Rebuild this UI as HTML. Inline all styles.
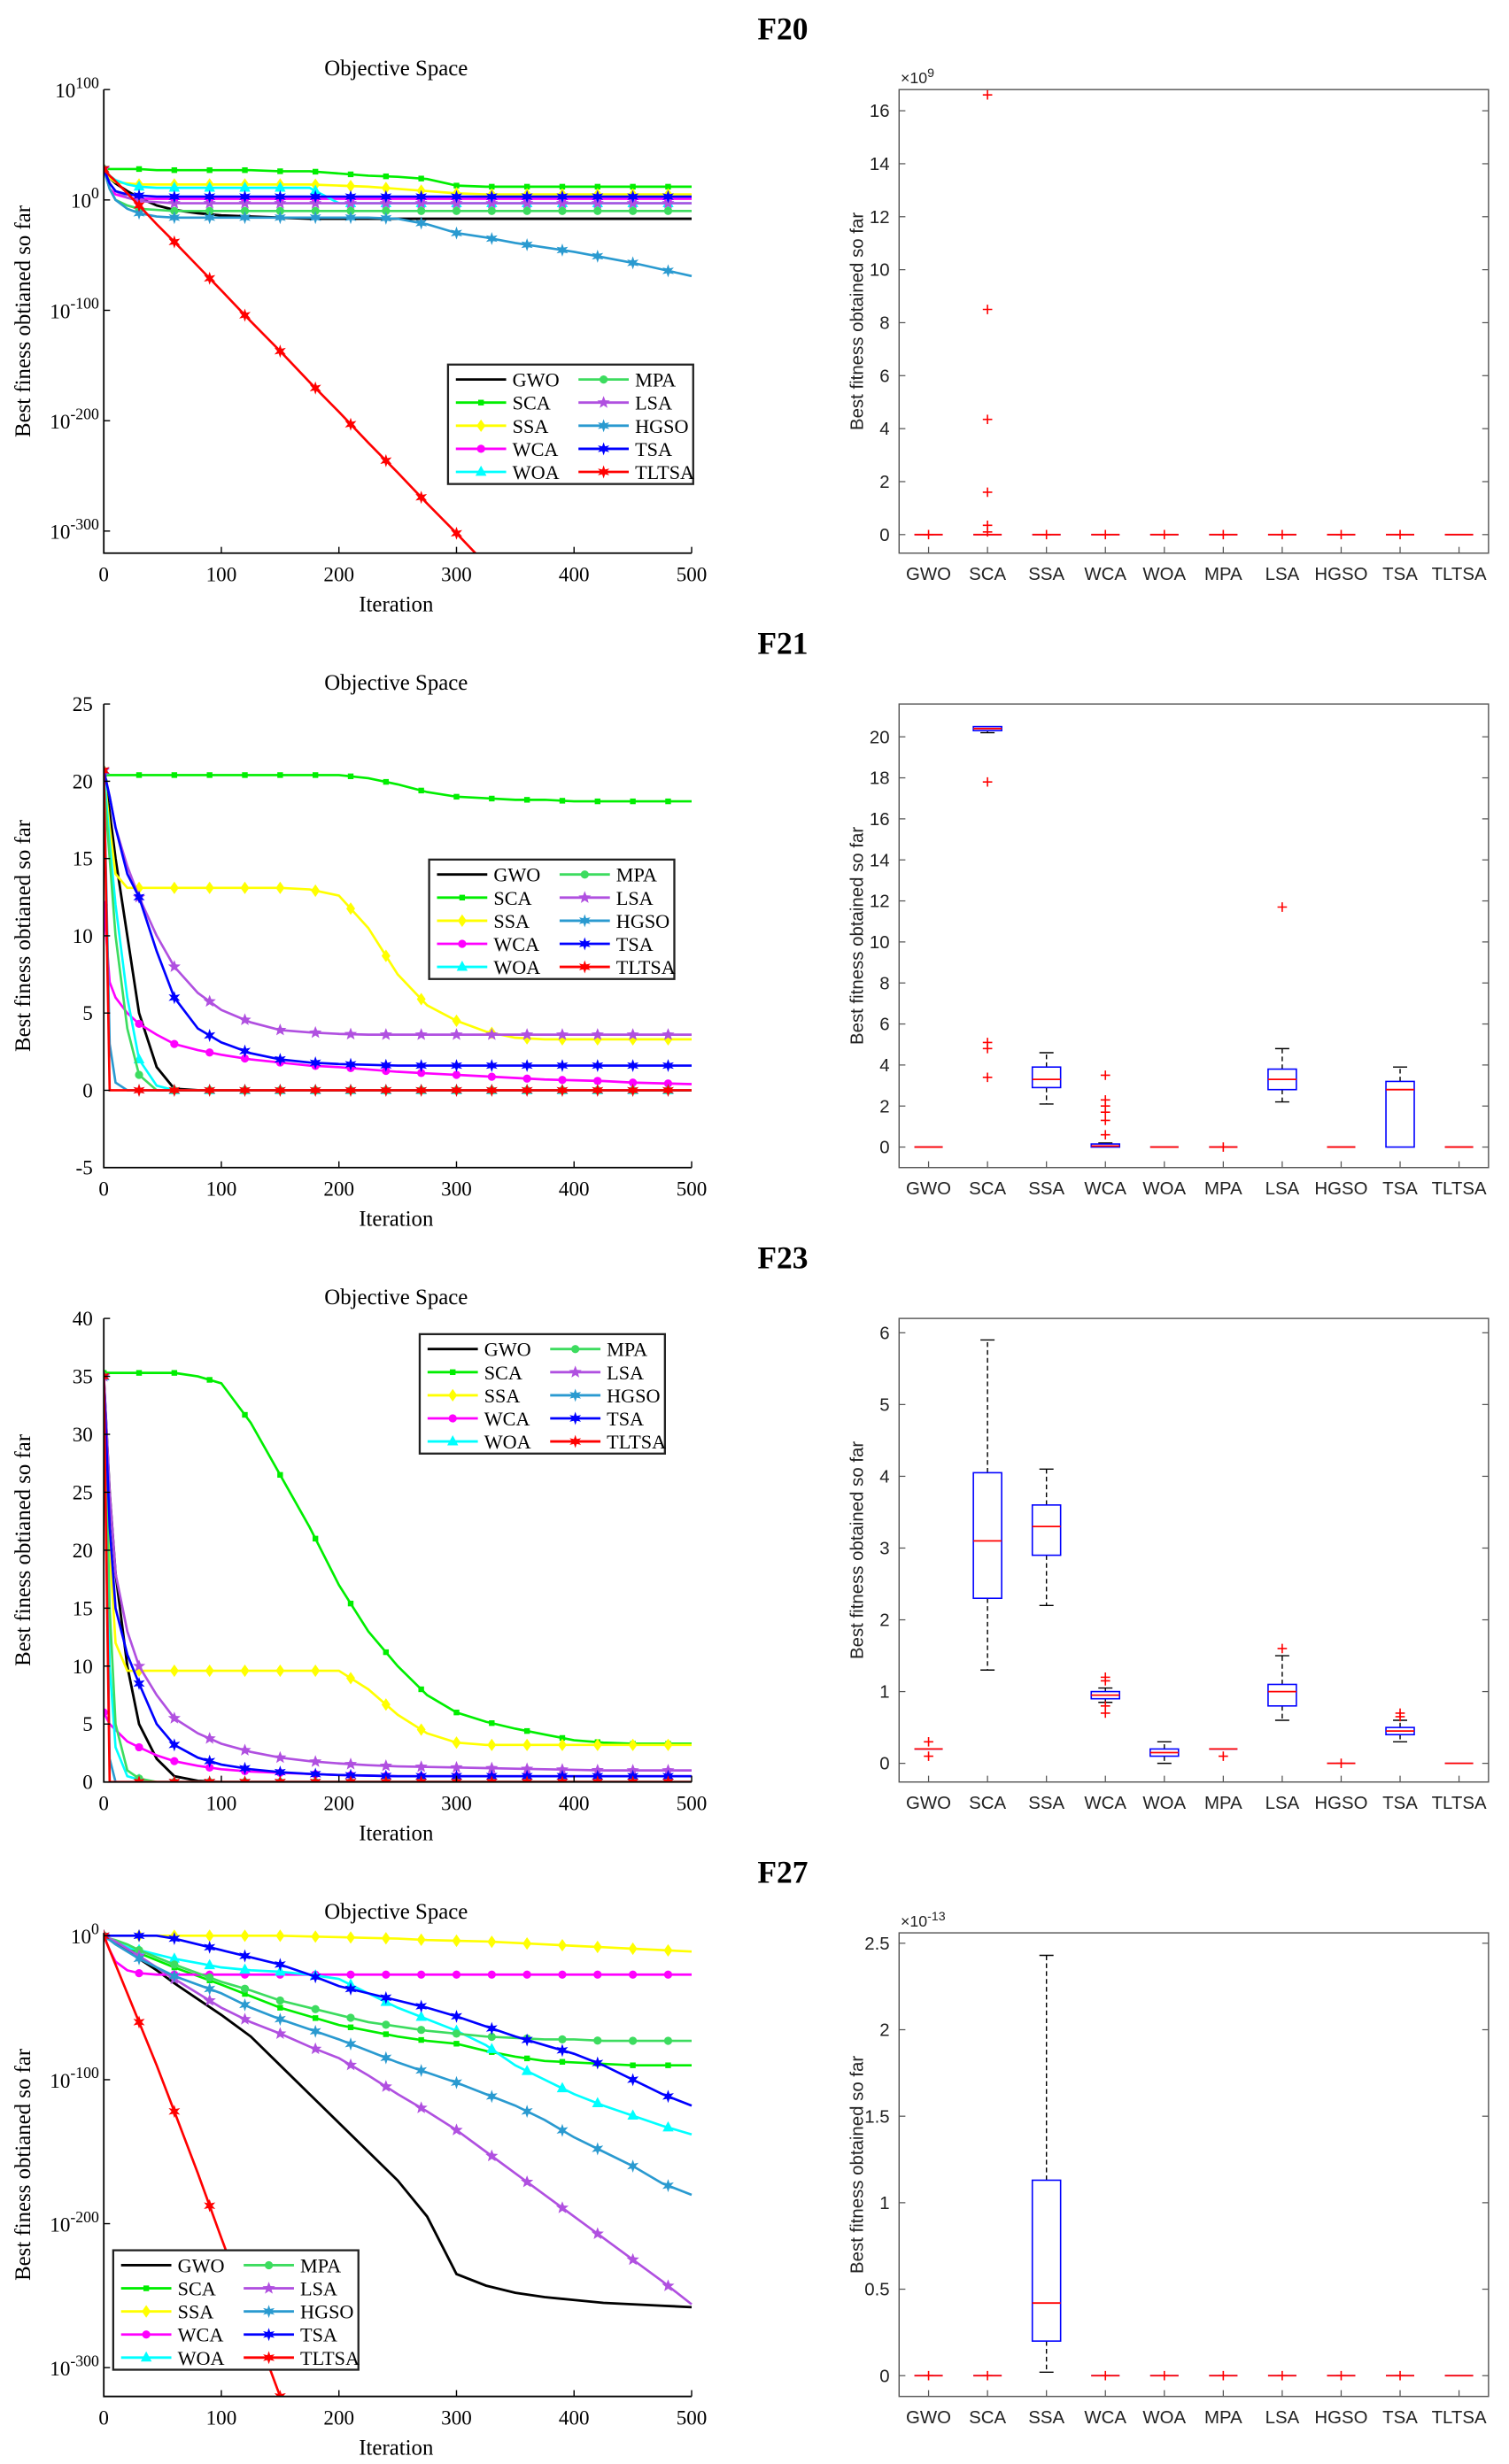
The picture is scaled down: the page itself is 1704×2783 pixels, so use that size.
<!DOCTYPE html>
<html><head><meta charset="utf-8"><style>
html,body{margin:0;padding:0;background:#fff}
svg{display:block}
</style></head><body>
<svg id="fig" xmlns="http://www.w3.org/2000/svg" width="1704" height="2783" viewBox="0 0 960 1568"></svg>
<script>
// ---------- DATA ----------
const ALGOS = ["GWO","SCA","SSA","WCA","WOA","MPA","LSA","HGSO","TSA","TLTSA"];
const ITER = [0,5,10,20,30,45,60,80,100,125,150,175,200,225,250,275,300,325,350,375,400,425,450,475,500];
const X_TICKS = [0,100,200,300,400,500];

// F20 (log10 of fitness)
const F20_GWO  = [28,20,15,8,2,-5,-9,-12,-14,-15,-16,-17,-17,-17,-17,-17,-17,-17,-17,-17,-17,-17,-17,-17,-17];
const F20_SCA  = [28,28,28,28,28,27,27,27,27,27,26,26,24,22,21,19,13,12,12,12,12,12,12,12,12];
const F20_SSA  = [28,20,16,15,14,14,14,14,14,14,14,14,13,12,10,8,6,5,5,5,5,5,5,5,5];
const F20_WCA  = [28,10,5,2,1,1,1,1,1,1,1,1,1,1,1,1,1,1,1,1,1,1,1,1,1];
const F20_WOA  = [28,22,18,14,12,11,11,11,11,11,11,11,-3,-3,-3,-3,-3,-3,-3,-3,-3,-3,-3,-3,-3];
const F20_MPA  = [28,10,0,-5,-8,-9,-10,-10,-10,-10,-10,-10,-10,-10,-10,-10,-10,-10,-10,-10,-10,-10,-10,-10,-10];
const F20_LSA  = [28,15,8,2,-1,-2,-3,-3,-3,-3,-3,-3,-3,-3,-3,-3,-3,-3,-3,-3,-3,-3,-3,-3,-3];
const F20_HGSO = [28,10,0,-8,-12,-15,-16,-16,-16,-16,-16,-16,-16,-16,-17,-22,-30,-34,-39,-43,-47,-52,-57,-63,-69];
const F20_TSA  = [28,15,8,5,4,3,3,3,3,3,3,3,3,3,3,3,3,3,3,3,3,3,3,3,3];
const F20_TLTSA= [28,22,17,6,-5,-22,-38,-60,-82,-110,-137,-165,-192,-220,-247,-275,-302,-330,-340,-340,-340,-340,-340,-340,-340];

// F21
const F21_GWO  = [20.7,18,15,10,5,1.5,0.1,0,0,0,0,0,0,0,0,0,0,0,0,0,0,0,0,0,0];
const F21_SCA  = [20.4,20.4,20.4,20.4,20.4,20.4,20.4,20.4,20.4,20.4,20.4,20.4,20.4,20.2,19.8,19.3,19,18.9,18.8,18.8,18.7,18.7,18.7,18.7,18.7];
const F21_SSA  = [20.7,17,14,13.1,13.1,13.1,13.1,13.1,13.1,13.1,13.1,13,12.6,10.5,7.5,5.5,4.5,3.8,3.4,3.3,3.3,3.3,3.3,3.3,3.3];
const F21_WCA  = [12,7,6,5,4.3,3.6,3,2.6,2.3,2,1.8,1.6,1.5,1.35,1.2,1.1,1,0.9,0.8,0.7,0.65,0.6,0.5,0.45,0.4];
const F21_WOA  = [20.7,16,12,6,2,0.3,0,0,0,0,0,0,0,0,0,0,0,0,0,0,0,0,0,0,0];
const F21_MPA  = [20,15,10,4,1,0,0,0,0,0,0,0,0,0,0,0,0,0,0,0,0,0,0,0,0];
const F21_LSA  = [20.7,19,17,14.5,12.5,10,8,6.3,5.2,4.4,3.9,3.75,3.65,3.6,3.6,3.6,3.6,3.6,3.6,3.6,3.6,3.6,3.6,3.6,3.6];
const F21_HGSO = [20.7,3,0.5,0,0,0,0,0,0,0,0,0,0,0,0,0,0,0,0,0,0,0,0,0,0];
const F21_TSA  = [20.7,19,17,14,12.5,9,6,4,3.1,2.4,2,1.8,1.7,1.65,1.6,1.6,1.6,1.6,1.6,1.6,1.6,1.6,1.6,1.6,1.6];
const F21_TLTSA= [20.7,0,0,0,0,0,0,0,0,0,0,0,0,0,0,0,0,0,0,0,0,0,0,0,0];

// F23
const F23_GWO  = [35,25,18,10,5,2,0.5,0.1,0,0,0,0,0,0,0,0,0,0,0,0,0,0,0,0,0];
const F23_SCA  = [35.3,35.3,35.3,35.3,35.3,35.3,35.3,35,34.4,31,26.5,22,17,13,10,7.5,6,5.2,4.6,4.1,3.6,3.4,3.3,3.3,3.3];
const F23_SSA  = [35,20,12,9.6,9.6,9.6,9.6,9.6,9.6,9.6,9.6,9.6,9.6,8,5.8,4.2,3.4,3.2,3.2,3.2,3.2,3.2,3.2,3.2,3.2];
const F23_WCA  = [6,5,4.5,3.5,3,2.3,1.8,1.4,1.1,0.9,0.8,0.7,0.6,0.55,0.5,0.5,0.5,0.5,0.5,0.5,0.5,0.5,0.5,0.5,0.5];
const F23_WOA  = [35,10,3,0.5,0.2,0,0,0,0,0,0,0,0,0,0,0,0,0,0,0,0,0,0,0,0];
const F23_MPA  = [35,15,5,1,0.3,0,0,0,0,0,0,0,0,0,0,0,0,0,0,0,0,0,0,0,0];
const F23_LSA  = [35,25,18,13,10,7.5,5.5,4.2,3.3,2.6,2.1,1.8,1.6,1.45,1.35,1.3,1.25,1.2,1.15,1.1,1.05,1,1,1,1];
const F23_HGSO = [35,2,0,0,0,0,0,0,0,0,0,0,0,0,0,0,0,0,0,0,0,0,0,0,0];
const F23_TSA  = [35,22,15,11,8.5,5,3.2,2.1,1.5,1.1,0.85,0.7,0.6,0.55,0.5,0.5,0.5,0.5,0.5,0.5,0.5,0.5,0.5,0.5,0.5];
const F23_TLTSA= [35,0,0,0,0,0,0,0,0,0,0,0,0,0,0,0,0,0,0,0,0,0,0,0,0];

// F27 (log10)
const F27_GWO  = [0,-2,-4,-10,-16,-24,-33,-44,-55,-70,-90,-110,-130,-150,-170,-195,-235,-243,-248,-251,-253,-255,-256,-257,-258];
const F27_SCA  = [0,-2,-4,-8,-12,-17,-22,-28,-34,-42,-50,-56,-62,-66,-70,-73,-75,-80,-84,-87,-88,-89,-90,-90,-90];
const F27_SSA  = [0,0,0,0,0,0,0,0,0,0,0,-0.5,-1,-1.5,-2,-3,-3.5,-4,-5,-6,-7,-8,-9,-10,-11];
const F27_WCA  = [0,-10,-18,-24,-26,-27,-27,-27,-27,-27,-27,-27,-27,-27,-27,-27,-27,-27,-27,-27,-27,-27,-27,-27,-27];
const F27_WOA  = [0,-2,-4,-8,-10,-13,-16,-19,-22,-24,-25,-27,-30,-40,-50,-58,-66,-76,-90,-100,-110,-118,-125,-132,-138];
const F27_MPA  = [0,-2,-3,-6,-10,-15,-20,-26,-32,-38,-45,-50,-55,-60,-63,-66,-68,-70,-71,-72,-72,-73,-73,-73,-73];
const F27_LSA  = [0,-2,-4,-9,-14,-22,-30,-40,-50,-60,-68,-77,-85,-97,-110,-122,-135,-150,-165,-180,-195,-210,-225,-240,-256];
const F27_HGSO = [0,-3,-6,-11,-16,-22,-28,-34,-40,-50,-58,-65,-72,-80,-88,-95,-102,-110,-118,-128,-140,-150,-160,-172,-180];
const F27_TSA  = [0,0,0,0,0,0,-2,-6,-10,-15,-20,-27,-35,-40,-45,-50,-56,-63,-70,-76,-82,-90,-100,-110,-118];
const F27_TLTSA= [0,-10,-20,-40,-60,-90,-122,-165,-210,-265,-320,-340,-340,-340,-340,-340,-340,-340,-340,-340,-340,-340,-340,-340,-340];

// Box plot stats per algorithm: [q1, median, q3, whiskerLow, whiskerHigh]
const B20_STATS = [[0,0,0,0,0],[0,0,0,0,0],[0,0,0,0,0],[0,0,0,0,0],[0,0,0,0,0],[0,0,0,0,0],[0,0,0,0,0],[0,0,0,0,0],[0,0,0,0,0],[0,0,0,0,0]];
const B20_OUT = [[0],[16.6,8.5,4.35,1.6,0.35,0.1],[0],[0],[0],[0],[0],[0],[0],[]];
const B21_STATS = [[0,0,0,0,0],[20.3,20.4,20.5,20.2,20.5],[2.9,3.3,3.9,2.1,4.6],[0,0.05,0.15,0,0.2],[0,0,0,0,0],[0,0,0,0,0],[2.8,3.3,3.8,2.2,4.8],[0,0,0,0,0],[0,2.8,3.2,0,3.9],[0,0,0,0,0]];
const B21_OUT = [[],[17.8,5.1,4.8,3.4],[],[3.5,2.3,2.0,1.7,1.3,0.6],[],[0],[11.7],[],[],[]];
const B23_STATS = [[0.2,0.2,0.2,0.2,0.2],[2.3,3.1,4.05,1.3,5.9],[2.9,3.3,3.6,2.2,4.1],[0.9,0.95,1.0,0.85,1.05],[0.1,0.15,0.2,0,0.3],[0.2,0.2,0.2,0.2,0.2],[0.8,1.0,1.1,0.6,1.5],[0,0,0,0,0],[0.4,0.45,0.5,0.3,0.6],[0,0,0,0,0]];
const B23_OUT = [[0.3,0.1],[],[],[1.2,1.15,0.8,0.7],[],[0.1],[1.6],[0],[0.7,0.65],[]];
const B27_STATS = [[0,0,0,0,0],[0,0,0,0,0],[0.2,0.42,1.13,0.02,2.43],[0,0,0,0,0],[0,0,0,0,0],[0,0,0,0,0],[0,0,0,0,0],[0,0,0,0,0],[0,0,0,0,0],[0,0,0,0,0]];
const B27_OUT = [[0],[0],[],[0],[0],[0],[0],[0],[0],[]];

// ---------- DRAWING ----------
const NS="http://www.w3.org/2000/svg";
const svg=document.getElementById('fig');
const COLORS={GWO:"#000000",SCA:"#00ee00",SSA:"#ffff00",WCA:"#ff00ff",WOA:"#00ffff",MPA:"#3ddc5f",LSA:"#b050e0",HGSO:"#2a9ad0",TSA:"#0000ff",TLTSA:"#ff0000"};
const MARK={GWO:"none",SCA:"dot",SSA:"diamond",WCA:"circle",WOA:"tri",MPA:"circle",LSA:"star",HGSO:"star6",TSA:"star6",TLTSA:"star6"};
const SERIF='"Liberation Serif", serif', SANS='"Liberation Sans", sans-serif';
function el(tag,attrs,parent){const e=document.createElementNS(NS,tag);for(const k in attrs)e.setAttribute(k,attrs[k]);(parent||svg).appendChild(e);return e;}
function txt(s,x,y,attrs,parent){const t=el('text',Object.assign({x:x,y:y},attrs),parent);t.textContent=s;return t;}

function marker(g,type,x,y,c){
  let m=null;
  if(type==="dot"){m=el('rect',{x:x-1.8,y:y-1.8,width:3.6,height:3.6,fill:c},g);}
  else if(type==="circle"){m=el('circle',{cx:x,cy:y,r:2.6,fill:c},g);}
  else if(type==="diamond"){m=el('polygon',{points:`${x},${y-4} ${x+2.8},${y} ${x},${y+4} ${x-2.8},${y}`,fill:c},g);}
  else if(type==="tri"){m=el('polygon',{points:`${x},${y-4} ${x+3.5},${y+2.5} ${x-3.5},${y+2.5}`,fill:c},g);}
  else if(type==="star"||type==="star6"){
    const n=type==="star"?5:6,pts=[];
    for(let i=0;i<2*n;i++){const r=i%2?1.8:4.2,ang=-Math.PI/2+i*Math.PI/n;pts.push((x+r*Math.cos(ang)).toFixed(2)+","+(y+r*Math.sin(ang)).toFixed(2));}
    m=el('polygon',{points:pts.join(' '),fill:c},g);
  }
  if(m){}
}
function interp(xv,yv,x){for(let i=1;i<xv.length;i++){if(x<=xv[i]){const t=(x-xv[i-1])/(xv[i]-xv[i-1]);return yv[i-1]+t*(yv[i]-yv[i-1]);}}return yv[yv.length-1];}

const L={x0:66,x1:440,top:57,bot:352};
const R={x0:572,x1:947,top:57,bot:352};

function leftPanel(off,series,ymin,ymax,yticks,logScale,legendPos,id){
  const g=el('g',{transform:`translate(0,${off})`});
  
  
  const xs=v=>L.x0+(v/500)*(L.x1-L.x0);
  const ys=v=>L.bot-(v-ymin)/(ymax-ymin)*(L.bot-L.top);
  const cp=el('clipPath',{id:'cp'+id},g);el('rect',{x:L.x0,y:L.top-6,width:L.x1-L.x0+2,height:L.bot-L.top+6},cp);
  const t=txt('Objective Space',252,-9+L.top,{'font-family':SERIF,'font-size':14,'text-anchor':'middle'},g);
  
  const sg=el('g',{'clip-path':`url(#cp${id})`},g);
  ALGOS.forEach((a,k)=>{
    const vals=series[k];
    const pts=ITER.map((it,i)=>xs(it).toFixed(2)+','+ys(vals[i]).toFixed(2)).join(' ');
    const pl=el('polyline',{points:pts,fill:'none',stroke:COLORS[a],'stroke-width':a==="GWO"?1.6:1.5},sg);
    
    
    if(MARK[a]!=="none"){for(let it=0;it<=500;it+=30){marker(sg,MARK[a],xs(it),ys(interp(ITER,vals,it)),COLORS[a]);}}
  });
  const ax=el('path',{d:`M${L.x0},${L.top} V${L.bot} H${L.x1}`,fill:'none',stroke:'#000','stroke-width':1},g);
  
  X_TICKS.forEach(v=>{
    el('line',{x1:xs(v),x2:xs(v),y1:L.bot,y2:L.bot-4,stroke:'#000','stroke-width':0.8},g);
    const tl=txt(String(v),xs(v),L.bot+18,{'font-family':SERIF,'font-size':13,'text-anchor':'middle'},g);
    
  });
  yticks.forEach(v=>{
    el('line',{x1:L.x0,x2:L.x0+4,y1:ys(v),y2:ys(v),stroke:'#000','stroke-width':0.8},g);
    let tl;
    if(logScale){
      tl=txt('10',L.x0-3,ys(v)+5,{'font-family':SERIF,'font-size':13,'text-anchor':'end'},g);
      const sp=el('tspan',{dy:-6,'font-size':10},tl);sp.textContent=String(v);
    } else {
      tl=txt(String(v),L.x0-7,ys(v)+4.5,{'font-family':SERIF,'font-size':13,'text-anchor':'end'},g);
    }
    
  });
  const xl=txt('Iteration',252,L.bot+37,{'font-family':SERIF,'font-size':14,'text-anchor':'middle'},g);
  
  const yl=txt('Best finess obtianed so far',0,0,{'font-family':SERIF,'font-size':14,'text-anchor':'middle',transform:`translate(19,${(L.top+L.bot)/2}) rotate(-90)`},g);
  
  const lx=legendPos[0],ly=legendPos[1];
  const lg=el('g',{},g);
  el('rect',{x:lx,y:ly,width:156,height:76,fill:'#fff',stroke:'#222','stroke-width':1.3},lg);
  ALGOS.forEach((a,k)=>{
    const col=k<5?0:1,row=k%5;
    const x=lx+5+col*78,y=ly+9.5+row*14.7;
    const e=el('g',{},lg);
    el('line',{x1:x,x2:x+32,y1:y,y2:y,stroke:COLORS[a],'stroke-width':1.6},e);
    if(MARK[a]!=="none")marker(e,MARK[a],x+16,y,COLORS[a]);
    txt(a,x+36,y+4.5,{'font-family':SERIF,'font-size':12.5},e);
  });
}

function rightPanel(off,stats,outs,ymin,ymax,yticks,exponent,id){
  const g=el('g',{transform:`translate(0,${off})`});
  
  const xs=i=>R.x0+(i+0.5)*(R.x1-R.x0)/10;
  const ys=v=>R.bot-(v-ymin)/(ymax-ymin)*(R.bot-R.top);
  const fr=el('rect',{x:R.x0,y:R.top,width:R.x1-R.x0,height:R.bot-R.top,fill:'none',stroke:'#555','stroke-width':0.8},g);
  
  yticks.forEach(v=>{
    el('line',{x1:R.x0,x2:R.x0+4,y1:ys(v),y2:ys(v),stroke:'#555','stroke-width':0.7},g);
    el('line',{x1:R.x1,x2:R.x1-4,y1:ys(v),y2:ys(v),stroke:'#555','stroke-width':0.7},g);
    const tl=txt(String(v),R.x0-6,ys(v)+4,{'font-family':SANS,'font-size':11.5,'text-anchor':'end',fill:'#222'},g);
    
  });
  if(exponent){
    const et=txt('\u00d710',R.x0+1,R.top-4,{'font-family':SANS,'font-size':10,fill:'#222'},g);
    const sp=el('tspan',{dy:-4,'font-size':8},et);sp.textContent=exponent;
    
  }
  ALGOS.forEach((a,i)=>{
    const x=xs(i),q1=stats[i][0],md=stats[i][1],q3=stats[i][2],wl=stats[i][3],wh=stats[i][4];
    const bg=el('g',{},g);
    el('line',{x1:x,x2:x,y1:R.bot,y2:R.bot-4,stroke:'#555','stroke-width':0.7},g);
    const tl=txt(a,x,R.bot+17,{'font-family':SANS,'font-size':11.5,'text-anchor':'middle',fill:'#222'},g);
    
    const hw=9;
    if(wh>q3){el('line',{x1:x,x2:x,y1:ys(q3),y2:ys(wh),stroke:'#000','stroke-width':0.8,'stroke-dasharray':'3,2'},bg);el('line',{x1:x-4.5,x2:x+4.5,y1:ys(wh),y2:ys(wh),stroke:'#000','stroke-width':0.8},bg);}
    if(wl<q1){el('line',{x1:x,x2:x,y1:ys(q1),y2:ys(wl),stroke:'#000','stroke-width':0.8,'stroke-dasharray':'3,2'},bg);el('line',{x1:x-4.5,x2:x+4.5,y1:ys(wl),y2:ys(wl),stroke:'#000','stroke-width':0.8},bg);}
    if(q3>q1)el('rect',{x:x-hw,y:ys(q3),width:2*hw,height:ys(q1)-ys(q3),fill:'none',stroke:'#0000ff','stroke-width':0.9},bg);
    else el('line',{x1:x-hw,x2:x+hw,y1:ys(q1),y2:ys(q1),stroke:'#0000ff','stroke-width':0.9},bg);
    el('line',{x1:x-hw,x2:x+hw,y1:ys(md),y2:ys(md),stroke:'#ff0000','stroke-width':1},bg);
    outs[i].forEach(v=>{
      const p=el('path',{d:`M${x-3},${ys(v)} h6 M${x},${ys(v)-3} v6`,stroke:'#ff0000','stroke-width':0.9,fill:'none'},bg);
      
    });
  });
  const yl=txt('Best fitness obtained so far',0,0,{'font-family':SANS,'font-size':11.5,'text-anchor':'middle',fill:'#222',transform:`translate(549,${(R.top+R.bot)/2}) rotate(-90)`},g);
  
}

function panelTitle(s,off){const t=txt(s,498,off+25,{'font-family':SERIF,'font-size':20,'font-weight':'bold','text-anchor':'middle'});}

const OFF=[0,391,782,1173];
panelTitle('F20',OFF[0]);panelTitle('F21',OFF[1]);panelTitle('F23',OFF[2]);panelTitle('F27',OFF[3]);

leftPanel(OFF[0],[F20_GWO,F20_SCA,F20_SSA,F20_WCA,F20_WOA,F20_MPA,F20_LSA,F20_HGSO,F20_TSA,F20_TLTSA],-320,100,[100,0,-100,-200,-300],true,[285,232],'f20');
leftPanel(OFF[1],[F21_GWO,F21_SCA,F21_SSA,F21_WCA,F21_WOA,F21_MPA,F21_LSA,F21_HGSO,F21_TSA,F21_TLTSA],-5,25,[25,20,15,10,5,0,-5],false,[273,156],'f21');
leftPanel(OFF[2],[F23_GWO,F23_SCA,F23_SSA,F23_WCA,F23_WOA,F23_MPA,F23_LSA,F23_HGSO,F23_TSA,F23_TLTSA],0,40,[40,35,30,25,20,15,10,5,0],false,[267,67],'f23');
leftPanel(OFF[3],[F27_GWO,F27_SCA,F27_SSA,F27_WCA,F27_WOA,F27_MPA,F27_LSA,F27_HGSO,F27_TSA,F27_TLTSA],-320,2,[0,-100,-200,-300],true,[72,259],'f27');

rightPanel(OFF[0],B20_STATS,B20_OUT,-0.7,16.8,[0,2,4,6,8,10,12,14,16],'9','f20');
rightPanel(OFF[1],B21_STATS,B21_OUT,-1,21.6,[0,2,4,6,8,10,12,14,16,18,20],null,'f21');
rightPanel(OFF[2],B23_STATS,B23_OUT,-0.26,6.2,[0,1,2,3,4,5,6],null,'f23');
rightPanel(OFF[3],B27_STATS,B27_OUT,-0.12,2.56,[0,0.5,1,1.5,2,2.5],'-13','f27');
</script>
</body></html>
